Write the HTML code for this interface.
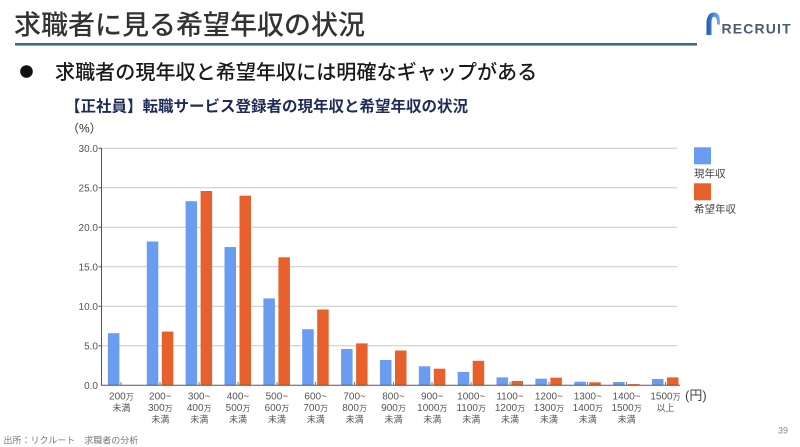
<!DOCTYPE html>
<html><head><meta charset="utf-8">
<style>
html,body{margin:0;padding:0;background:#fff;}
body{width:800px;height:447px;overflow:hidden;}
svg{display:block;}
text{font-family:"Liberation Sans","Noto Sans CJK JP",sans-serif;}
</style></head>
<body>
<svg width="800" height="447" viewBox="0 0 800 447" xmlns="http://www.w3.org/2000/svg">
<defs>
<linearGradient id="lg" x1="0" y1="0" x2="1" y2="0">
<stop offset="0" stop-color="#1b5ab2"/><stop offset="1" stop-color="#7db4ec"/>
</linearGradient>
</defs>
<rect width="800" height="447" fill="#fff"/>
<!-- header -->
<text x="14" y="34.5" font-size="27" font-weight="500" fill="#333">求職者に見る希望年収の状況</text>
<rect x="15" y="43" width="682" height="2.6" fill="#3b6696"/>
<path d="M706.5,35 L706.5,22 Q707.5,12.5 713.5,12.5 Q719.5,12.5 720,20 L720,24.5 L717.2,24.5 L716.8,20.5 Q716,16.8 714,16.8 Q711.5,16.8 711.5,22.5 L711.5,35 Z" fill="url(#lg)"/>
<text x="721.5" y="33.3" font-size="14" font-weight="bold" fill="#4a5b72" letter-spacing="1.15">RECRUIT</text>
<!-- bullet -->
<circle cx="26.5" cy="71.5" r="6.3" fill="#111"/>
<text x="55" y="78.8" font-size="20.1" font-weight="500" fill="#1a1a1a">求職者の現年収と希望年収には明確なギャップがある</text>
<!-- subtitle -->
<text x="65" y="111.5" font-size="15.5" font-weight="bold" fill="#1e2b58">【正社員】転職サービス登録者の現年収と希望年収の状況</text>
<text x="67" y="132.5" font-size="12" fill="#333">（%）</text>
<!-- gridlines -->
<g stroke="#c8c8c8" stroke-width="1">
<line x1="102" y1="148.3" x2="677" y2="148.3"/>
<line x1="102" y1="187.8" x2="677" y2="187.8"/>
<line x1="102" y1="227.3" x2="677" y2="227.3"/>
<line x1="102" y1="266.8" x2="677" y2="266.8"/>
<line x1="102" y1="306.3" x2="677" y2="306.3"/>
<line x1="102" y1="345.8" x2="677" y2="345.8"/>
</g>
<!-- y labels -->
<g font-size="10" fill="#555" text-anchor="end">
<text x="98" y="151.9">30.0</text>
<text x="98" y="191.4">25.0</text>
<text x="98" y="230.9">20.0</text>
<text x="98" y="270.4">15.0</text>
<text x="98" y="309.9">10.0</text>
<text x="98" y="349.4">5.0</text>
<text x="98" y="388.9">0.0</text>
</g>
<!-- bars blue -->
<g fill="#6a9cf0">
<rect x="107.9" y="333.2" width="11.5" height="52.1"/>
<rect x="146.8" y="241.5" width="11.5" height="143.8"/>
<rect x="185.6" y="201.2" width="11.5" height="184.1"/>
<rect x="224.5" y="247.0" width="11.5" height="138.3"/>
<rect x="263.4" y="298.4" width="11.5" height="86.9"/>
<rect x="302.2" y="329.2" width="11.5" height="56.1"/>
<rect x="341.1" y="349.0" width="11.5" height="36.3"/>
<rect x="380.0" y="360.0" width="11.5" height="25.3"/>
<rect x="418.8" y="366.3" width="11.5" height="19.0"/>
<rect x="457.7" y="371.9" width="11.5" height="13.4"/>
<rect x="496.5" y="377.4" width="11.5" height="7.9"/>
<rect x="535.4" y="378.7" width="11.5" height="6.6"/>
<rect x="574.3" y="381.7" width="11.5" height="3.6"/>
<rect x="613.1" y="382.0" width="11.5" height="3.3"/>
<rect x="652.0" y="379.0" width="11.5" height="6.3"/>
</g>
<!-- bars orange -->
<g fill="#e8602b">
<rect x="161.8" y="331.6" width="11.5" height="53.7"/>
<rect x="200.6" y="191.0" width="11.5" height="194.3"/>
<rect x="239.5" y="195.7" width="11.5" height="189.6"/>
<rect x="278.4" y="257.3" width="11.5" height="128.0"/>
<rect x="317.2" y="309.5" width="11.5" height="75.8"/>
<rect x="356.1" y="343.4" width="11.5" height="41.9"/>
<rect x="395.0" y="350.5" width="11.5" height="34.8"/>
<rect x="433.8" y="368.7" width="11.5" height="16.6"/>
<rect x="472.7" y="360.8" width="11.5" height="24.5"/>
<rect x="511.5" y="381.0" width="11.5" height="4.3"/>
<rect x="550.4" y="377.7" width="11.5" height="7.6"/>
<rect x="589.3" y="382.3" width="11.5" height="3.0"/>
<rect x="628.1" y="384.1" width="11.5" height="1.2"/>
<rect x="667.0" y="377.4" width="11.5" height="7.9"/>
</g>
<!-- axes -->
<g stroke="#555" stroke-width="1">
<line x1="101.5" y1="148" x2="101.5" y2="385.8"/>
<line x1="101" y1="385.3" x2="680" y2="385.3"/>
<line x1="98.5" y1="148.3" x2="101.5" y2="148.3"/>
<line x1="98.5" y1="187.8" x2="101.5" y2="187.8"/>
<line x1="98.5" y1="227.3" x2="101.5" y2="227.3"/>
<line x1="98.5" y1="266.8" x2="101.5" y2="266.8"/>
<line x1="98.5" y1="306.3" x2="101.5" y2="306.3"/>
<line x1="98.5" y1="345.8" x2="101.5" y2="345.8"/>
</g>
<g stroke="#777" stroke-width="1">
<line x1="121" y1="382" x2="121" y2="385"/>
<line x1="160" y1="382" x2="160" y2="385"/>
<line x1="199" y1="382" x2="199" y2="385"/>
<line x1="238" y1="382" x2="238" y2="385"/>
<line x1="277" y1="382" x2="277" y2="385"/>
<line x1="315.5" y1="382" x2="315.5" y2="385"/>
<line x1="354.5" y1="382" x2="354.5" y2="385"/>
<line x1="393.5" y1="382" x2="393.5" y2="385"/>
<line x1="432" y1="382" x2="432" y2="385"/>
<line x1="471" y1="382" x2="471" y2="385"/>
<line x1="510" y1="382" x2="510" y2="385"/>
<line x1="549" y1="382" x2="549" y2="385"/>
<line x1="587.5" y1="382" x2="587.5" y2="385"/>
<line x1="626.5" y1="382" x2="626.5" y2="385"/>
<line x1="665.5" y1="382" x2="665.5" y2="385"/>
</g>
<!-- x labels -->
<g font-size="10" fill="#555" text-anchor="middle">
<text x="121.4" y="399.3">200<tspan font-size="8">万</tspan></text>
<text x="121.4" y="410.8" font-size="9">未満</text>

<text x="160.3" y="399.3">200~</text>
<text x="160.3" y="410.8">300<tspan font-size="8">万</tspan></text>
<text x="160.3" y="422.3" font-size="9">未満</text>

<text x="199.2" y="399.3">300~</text>
<text x="199.2" y="410.8">400<tspan font-size="8">万</tspan></text>
<text x="199.2" y="422.3" font-size="9">未満</text>

<text x="238.0" y="399.3">400~</text>
<text x="238.0" y="410.8">500<tspan font-size="8">万</tspan></text>
<text x="238.0" y="422.3" font-size="9">未満</text>

<text x="276.9" y="399.3">500~</text>
<text x="276.9" y="410.8">600<tspan font-size="8">万</tspan></text>
<text x="276.9" y="422.3" font-size="9">未満</text>

<text x="315.7" y="399.3">600~</text>
<text x="315.7" y="410.8">700<tspan font-size="8">万</tspan></text>
<text x="315.7" y="422.3" font-size="9">未満</text>

<text x="354.6" y="399.3">700~</text>
<text x="354.6" y="410.8">800<tspan font-size="8">万</tspan></text>
<text x="354.6" y="422.3" font-size="9">未満</text>

<text x="393.5" y="399.3">800~</text>
<text x="393.5" y="410.8">900<tspan font-size="8">万</tspan></text>
<text x="393.5" y="422.3" font-size="9">未満</text>

<text x="432.3" y="399.3">900~</text>
<text x="432.3" y="410.8">1000<tspan font-size="8">万</tspan></text>
<text x="432.3" y="422.3" font-size="9">未満</text>

<text x="471.2" y="399.3">1000~</text>
<text x="471.2" y="410.8">1100<tspan font-size="8">万</tspan></text>
<text x="471.2" y="422.3" font-size="9">未満</text>

<text x="510.0" y="399.3">1100~</text>
<text x="510.0" y="410.8">1200<tspan font-size="8">万</tspan></text>
<text x="510.0" y="422.3" font-size="9">未満</text>

<text x="548.9" y="399.3">1200~</text>
<text x="548.9" y="410.8">1300<tspan font-size="8">万</tspan></text>
<text x="548.9" y="422.3" font-size="9">未満</text>

<text x="587.8" y="399.3">1300~</text>
<text x="587.8" y="410.8">1400<tspan font-size="8">万</tspan></text>
<text x="587.8" y="422.3" font-size="9">未満</text>

<text x="626.6" y="399.3">1400~</text>
<text x="626.6" y="410.8">1500<tspan font-size="8">万</tspan></text>
<text x="626.6" y="422.3" font-size="9">未満</text>

<text x="665.5" y="399.3">1500<tspan font-size="8">万</tspan></text>
<text x="665.5" y="410.8" font-size="9">以上</text>
</g>
<text x="685" y="400" font-size="13" fill="#444">(円)</text>
<!-- legend -->
<rect x="694" y="147.3" width="17" height="17" fill="#6a9cf0"/>
<text x="694" y="177" font-size="10.5" fill="#444">現年収</text>
<rect x="694" y="183.3" width="17" height="17" fill="#e8602b"/>
<text x="694" y="212.6" font-size="10.5" fill="#444">希望年収</text>
<!-- footer -->
<text x="3.5" y="443.5" font-size="9" fill="#777">出所：リクルート　求職者の分析</text>
<text x="778" y="433.3" font-size="9" fill="#888">39</text>
</svg>
</body></html>
